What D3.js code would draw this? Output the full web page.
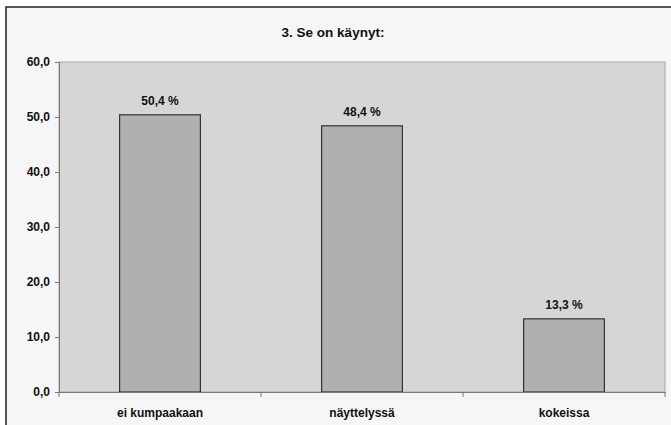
<!DOCTYPE html>
<html>
<head>
<meta charset="utf-8">
<script src="https://cdn.jsdelivr.net/npm/d3@7"></script>
<style>
  body { margin: 0; background: #fff; }
  text { font-family: "Liberation Sans", Arial, sans-serif; font-weight: bold; fill: #111; }
</style>
</head>
<body>
<div id="chart"></div>
<script>
const categories = ["ei kumpaakaan", "näyttelyssä", "kokeissa"]
const values = [50.4, 48.4, 13.3]
const yTicks = [0, 10, 20, 30, 40, 50, 60]
const title = "3. Se on käynyt:"

const W = 671, H = 425
const plot = {left: 59, top: 62, right: 665, bottom: 392}

const svg = d3.select("#chart")
  .append("svg")
    .attr("width", W)
    .attr("height", H)

// outer chart box
svg.append("rect")
  .attr("x", 6).attr("y", 7)
  .attr("width", W).attr("height", H)
  .attr("fill", "#f6f6f6")
  .attr("stroke", "#222")
  .attr("stroke-width", 1.5)

svg.append("text")
  .attr("x", 333).attr("y", 37)
  .attr("text-anchor", "middle")
  .attr("font-size", "13.5px")
  .text(title)

// scales
const x = d3.scaleBand()
  .domain(categories)
  .range([plot.left, plot.right])
  .paddingInner(0.6)
  .paddingOuter(0.3)

const xGroup = d3.scaleBand()
  .domain(categories)
  .range([plot.left, plot.right])

const y = d3.scaleLinear()
  .domain([0, 60])
  .range([plot.bottom, plot.top])

// plot area
svg.append("rect")
  .attr("x", plot.left).attr("y", plot.top)
  .attr("width", plot.right - plot.left)
  .attr("height", plot.bottom - plot.top)
  .attr("fill", "#d6d6d6")
  .attr("stroke", "#a8a8a8")

// bars
svg.selectAll("rect.bar")
  .data(values)
  .enter()
  .append("rect")
    .attr("class", "bar")
    .attr("x", (d, i) => x(categories[i]))
    .attr("y", d => y(d))
    .attr("width", x.bandwidth())
    .attr("height", d => y(0) - y(d))
    .attr("fill", "#b0b0b0")
    .attr("stroke", "#333")
    .attr("stroke-width", 1.2)

svg.selectAll("text.val")
  .data(values)
  .enter()
  .append("text")
    .attr("class", "val")
    .attr("x", (d, i) => x(categories[i]) + x.bandwidth() / 2)
    .attr("y", d => y(d) - 10)
    .attr("text-anchor", "middle")
    .attr("font-size", "12px")
    .text(d => d.toFixed(1).replace(".", ",") + " %")

// y axis
const yAxis = svg.append("g")
  .attr("transform", "translate(" + plot.left + ",0)")
  .call(d3.axisLeft(y).tickValues(yTicks).tickSize(4).tickPadding(5)
    .tickFormat(d => d.toFixed(1).replace(".", ",")))
yAxis.select(".domain").attr("stroke", "#777")
yAxis.selectAll(".tick line").attr("stroke", "#777")
yAxis.selectAll("text").attr("font-size", "12px").attr("fill", "#111")
  .style("font-family", "Liberation Sans, Arial, sans-serif").style("font-weight", "bold")

// x axis
const xAxis = svg.append("g")
  .attr("transform", "translate(0," + plot.bottom + ")")
  .call(d3.axisBottom(xGroup).tickSize(0).tickPadding(16))
xAxis.select(".domain").attr("stroke", "#777")
xAxis.selectAll("text").attr("font-size", "12px").attr("fill", "#111")
  .style("font-family", "Liberation Sans, Arial, sans-serif").style("font-weight", "bold")

// category separator ticks
svg.selectAll("line.sep")
  .data(categories.concat(["end"]))
  .enter()
  .append("line")
    .attr("class", "sep")
    .attr("x1", (d, i) => plot.left + i * xGroup.bandwidth())
    .attr("x2", (d, i) => plot.left + i * xGroup.bandwidth())
    .attr("y1", plot.bottom)
    .attr("y2", plot.bottom + 5)
    .attr("stroke", "#777")
</script>
</body>
</html>
